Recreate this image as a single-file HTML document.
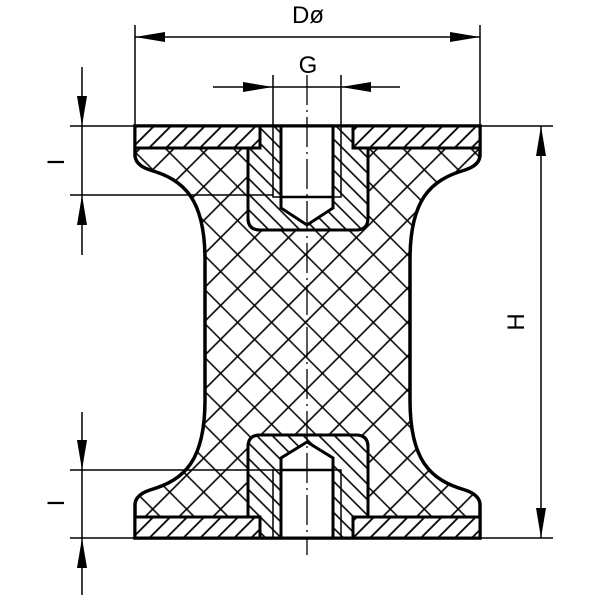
<!DOCTYPE html>
<html><head><style>html,body{margin:0;padding:0;background:#fff}</style></head>
<body>
<svg width="600" height="600" viewBox="0 0 600 600" xmlns="http://www.w3.org/2000/svg">
<defs>
<pattern id="xh" patternUnits="userSpaceOnUse" width="24" height="24" patternTransform="rotate(45)">
<path d="M12,0 L12,24 M0,12 L24,12" stroke="#000" stroke-width="1.6" fill="none"/>
</pattern>
<pattern id="ph" patternUnits="userSpaceOnUse" width="12" height="12" patternTransform="rotate(45)">
<path d="M6,0 L6,12" stroke="#000" stroke-width="1.8"/>
</pattern>
<pattern id="ih" patternUnits="userSpaceOnUse" width="11" height="11" patternTransform="rotate(-45)">
<path d="M5.5,0 L5.5,11" stroke="#000" stroke-width="1.6"/>
</pattern>
</defs>
<g fill="none" stroke="#000">
<path d="M135,126 L480,126 L480,155 Q480,165 465,170 C430,180 410,200 410,260 L410,400 C410,460 430,480 465,490 Q480,495 480,505 L480,538 L135,538 L135,505 Q135,495 150,490 C185,480 205,460 205,400 L205,260 C205,200 185,180 150,170 Q135,165 135,155 Z" fill="#fff" stroke-width="3.5"/>
<path d="M135,126 L480,126 L480,155 Q480,165 465,170 C430,180 410,200 410,260 L410,400 C410,460 430,480 465,490 Q480,495 480,505 L480,538 L135,538 L135,505 Q135,495 150,490 C185,480 205,460 205,400 L205,260 C205,200 185,180 150,170 Q135,165 135,155 Z" fill="url(#xh)" stroke="none"/>
<rect x="135" y="126" width="125" height="22" fill="#fff" stroke-width="3"/>
<rect x="135" y="126" width="125" height="22" fill="url(#ph)" stroke-width="3"/>
<rect x="353" y="126" width="127" height="22" fill="#fff" stroke-width="3"/>
<rect x="353" y="126" width="127" height="22" fill="url(#ph)" stroke-width="3"/>
<rect x="135" y="517" width="125" height="21" fill="#fff" stroke-width="3"/>
<rect x="135" y="517" width="125" height="21" fill="url(#ph)" stroke-width="3"/>
<rect x="353" y="517" width="127" height="21" fill="#fff" stroke-width="3"/>
<rect x="353" y="517" width="127" height="21" fill="url(#ph)" stroke-width="3"/>
<path d="M260,126 L353,126 L353,148 L368,148 L368,218 Q368,230 356,230 L260,230 Q248,230 248,218 L248,148 L260,148 Z" fill="#fff" stroke-width="3"/>
<path d="M260,126 L353,126 L353,148 L368,148 L368,218 Q368,230 356,230 L260,230 Q248,230 248,218 L248,148 L260,148 Z" fill="url(#ih)" stroke-width="3"/>
<path d="M281,126 L281,208 L307,225 L333,208 L333,126 Z" fill="#fff" stroke-width="3"/>
<path d="M281,197 L333,197" stroke-width="2.5"/>
<path d="M273,126 L273,197 L341,197 L341,126" stroke-width="1.5"/>
<path d="M260,538 L353,538 L353,517 L368,517 L368,447 Q368,435 356,435 L260,435 Q248,435 248,447 L248,517 L260,517 Z" fill="#fff" stroke-width="3"/>
<path d="M260,538 L353,538 L353,517 L368,517 L368,447 Q368,435 356,435 L260,435 Q248,435 248,447 L248,517 L260,517 Z" fill="url(#ih)" stroke-width="3"/>
<path d="M281,538 L281,458 L307,442 L333,458 L333,538 Z" fill="#fff" stroke-width="3"/>
<path d="M281,470 L333,470" stroke-width="2.5"/>
<path d="M273,538 L273,470 L341,470 L341,538" stroke-width="1.5"/>
<path d="M307,75 L307,555" stroke-width="1.3" stroke-dasharray="30,5,2,5"/>
<path d="M135,126 L135,25 M480,126 L480,25 M135,37 L480,37" stroke-width="1.5"/>
<path d="M273,126 L273,75 M341,126 L341,75 M213,87 L400,87" stroke-width="1.5"/>
<path d="M480,126 L553,126 M480,538 L553,538 M541,126 L541,538" stroke-width="1.5"/>
<path d="M70,126 L135,126 M70,195 L273,195 M82,67 L82,255" stroke-width="1.5"/>
<path d="M70,470 L273,470 M70,538 L135,538 M82,412 L82,595" stroke-width="1.5"/>
</g>
<g fill="#000">
<polygon points="135,37 165,32 165,42"/><polygon points="480,37 450,32 450,42"/>
<polygon points="273,87 243,82 243,92"/><polygon points="341,87 371,82 371,92"/>
<polygon points="541,126 536,156 546,156"/><polygon points="541,538 536,508 546,508"/>
<polygon points="82,126 77,96 87,96"/><polygon points="82,195 77,225 87,225"/>
<polygon points="82,470 77,440 87,440"/><polygon points="82,538 77,568 87,568"/>
</g>
<g font-family="Liberation Sans, sans-serif" font-size="24" fill="#000" text-anchor="middle">
<text x="308" y="23">Dø</text>
<text x="308" y="73">G</text>
<text transform="translate(524,322) rotate(-90)">H</text>
<text transform="translate(64,162) rotate(-90)">I</text>
<text transform="translate(64,503) rotate(-90)">I</text>
</g>
</svg>
</body></html>
